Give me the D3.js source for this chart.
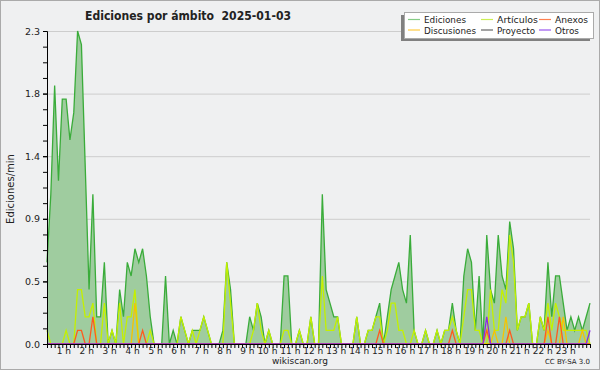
<!DOCTYPE html>
<html>
<head>
<meta charset="utf-8">
<script src="https://cdn.jsdelivr.net/npm/d3@7"></script>
<style>
  body { margin: 0; background: #eff0f1; }
  svg { display: block; }
  text { font-family: "DejaVu Sans", sans-serif; fill: #222; }
</style>
</head>
<body>
<svg id="chart" width="600" height="370"></svg>
<script>
// edits per minute, 10 minute bins
const ediciones = [0.6, 1.1, 1.9, 1.2, 1.8, 1.8, 1.5, 1.7, 2.3, 2.2, 1.3, 0.4, 1.1, 0.2, 0.2, 0.6, 0, 0.1, 0, 0.4,
  0.2, 0.6, 0.5, 0.7, 0.6, 0.7, 0.5, 0.2, 0, 0, 0, 0.5, 0, 0.1, 0, 0.2, 0.1, 0, 0.1, 0.1,
  0.1, 0.2, 0.1, 0, 0, 0, 0.1, 0.6, 0.4, 0, 0, 0, 0, 0.2, 0.1, 0.3, 0.2, 0, 0.1, 0,
  0, 0, 0.5, 0.5, 0, 0, 0.1, 0, 0, 0.2, 0, 0, 1.1, 0.4, 0.3, 0.2, 0.2, 0, 0, 0,
  0, 0.2, 0, 0, 0.1, 0.1, 0.2, 0.3, 0, 0.2, 0.4, 0.5, 0.6, 0.4, 0.3, 0.8, 0.1, 0, 0, 0.1,
  0, 0, 0.1, 0, 0.1, 0.1, 0.3, 0.1, 0, 0.5, 0.7, 0.6, 0.1, 0.5, 0, 0.8, 0.4, 0.3, 0.8, 0.5,
  0.4, 0.9, 0.7, 0.1, 0.2, 0.2, 0.3, 0, 0, 0.2, 0.1, 0.6, 0.2, 0.5, 0.5, 0.3, 0.1, 0.2, 0.1, 0.2,
  0.1, 0.2, 0.3];
const articulos = [0.1, 0, 0, 0, 0, 0.1, 0, 0, 0.4, 0.4, 0.2, 0.2, 0.3, 0, 0, 0.3, 0, 0.1, 0, 0.3,
  0, 0.2, 0.2, 0.4, 0, 0, 0, 0.1, 0, 0, 0, 0, 0, 0, 0, 0.2, 0.1, 0, 0.1, 0,
  0.1, 0.2, 0.1, 0, 0, 0, 0, 0.6, 0.3, 0, 0, 0, 0, 0, 0.1, 0.3, 0.1, 0, 0.1, 0,
  0, 0, 0.1, 0.1, 0, 0, 0.1, 0, 0, 0.2, 0, 0, 0.5, 0.1, 0.1, 0.1, 0.2, 0, 0, 0,
  0, 0.2, 0, 0, 0.1, 0.1, 0.2, 0.2, 0, 0.1, 0.3, 0.3, 0.1, 0.1, 0, 0, 0.1, 0, 0, 0.1,
  0, 0, 0.1, 0, 0.1, 0.1, 0.2, 0.1, 0, 0.2, 0.4, 0.4, 0.1, 0.1, 0, 0, 0.4, 0.1, 0.1, 0.4,
  0.3, 0.8, 0.6, 0.1, 0.2, 0.2, 0.3, 0, 0, 0.2, 0.1, 0.3, 0.1, 0.3, 0.2, 0.1, 0.1, 0.1, 0.1, 0.1,
  0.1, 0.1, 0];
const anexos = [0, 0, 0, 0, 0, 0, 0, 0, 0.1, 0.1, 0, 0, 0.2, 0, 0, 0, 0, 0, 0, 0,
  0, 0, 0, 0, 0, 0.1, 0, 0, 0, 0, 0, 0, 0, 0, 0, 0, 0, 0, 0, 0,
  0, 0, 0, 0, 0, 0, 0, 0, 0, 0, 0, 0, 0, 0, 0, 0, 0, 0, 0, 0,
  0, 0, 0, 0, 0, 0, 0, 0, 0, 0, 0, 0, 0, 0, 0, 0, 0, 0, 0, 0,
  0, 0, 0, 0, 0, 0, 0, 0.1, 0, 0, 0, 0, 0, 0, 0, 0, 0, 0, 0, 0,
  0, 0, 0, 0, 0, 0, 0.1, 0, 0, 0, 0, 0, 0, 0, 0, 0.1, 0, 0, 0, 0,
  0, 0.1, 0, 0, 0, 0, 0, 0, 0, 0, 0, 0.2, 0, 0, 0.2, 0, 0, 0, 0, 0,
  0, 0, 0];
const discusiones = [0, 0, 0, 0, 0, 0, 0, 0, 0, 0, 0, 0, 0, 0, 0, 0, 0, 0, 0, 0,
  0, 0, 0, 0.3, 0, 0, 0, 0, 0, 0, 0, 0, 0, 0, 0, 0, 0, 0, 0, 0,
  0, 0, 0, 0, 0, 0, 0, 0, 0, 0, 0, 0, 0, 0, 0, 0, 0, 0, 0, 0,
  0, 0, 0, 0, 0, 0, 0, 0, 0, 0, 0, 0, 0, 0, 0, 0, 0, 0, 0, 0,
  0, 0, 0, 0, 0, 0, 0, 0, 0, 0, 0, 0, 0, 0, 0, 0, 0, 0, 0, 0,
  0, 0, 0, 0, 0, 0, 0, 0, 0, 0, 0, 0, 0, 0, 0, 0, 0, 0.1, 0, 0,
  0.2, 0, 0, 0, 0, 0, 0, 0, 0, 0, 0, 0.1, 0, 0, 0, 0.2, 0, 0, 0, 0,
  0.1, 0, 0];
const proyecto = ediciones.map(() => 0);
const otros = [0, 0, 0, 0, 0, 0, 0, 0, 0, 0, 0, 0, 0, 0, 0, 0, 0, 0, 0, 0,
  0, 0, 0, 0, 0, 0, 0, 0, 0, 0, 0, 0, 0, 0, 0, 0, 0, 0, 0, 0,
  0, 0, 0, 0, 0, 0, 0, 0, 0, 0, 0, 0, 0, 0, 0, 0, 0, 0, 0, 0,
  0, 0, 0, 0, 0, 0, 0, 0, 0, 0, 0, 0, 0, 0, 0, 0, 0, 0, 0, 0,
  0, 0, 0, 0, 0, 0, 0, 0, 0, 0, 0, 0, 0, 0, 0, 0, 0, 0, 0, 0,
  0, 0, 0, 0, 0, 0, 0, 0, 0, 0, 0, 0, 0, 0, 0, 0.2, 0, 0, 0, 0,
  0, 0, 0, 0, 0, 0, 0, 0, 0, 0, 0, 0, 0, 0, 0, 0, 0, 0, 0, 0,
  0, 0, 0.1];

const yTicks = [0, 0.46, 0.92, 1.38, 1.84, 2.3];
const hourLabels = d3.range(1, 24).map(h => h + " h");
const legendNames = ["Ediciones", "Discusiones", "Artículos", "Proyecto", "Anexos", "Otros"];

const svg = d3.select("#chart");
const W = 600, H = 370;
const plot = {left: 47, right: 590, top: 31, bottom: 344};

svg.append("rect").attr("x", 0.5).attr("y", 0.5).attr("width", W - 1).attr("height", H - 1)
  .attr("fill", "#eff0f1").attr("stroke", "#aaa");

const x = d3.scaleLinear().domain([0, ediciones.length - 1]).range([plot.left, plot.right]);
const y = d3.scaleLinear().domain([0, 2.3]).range([plot.bottom, plot.top]);

// grid
svg.append("g")
  .attr("transform", `translate(${plot.left},0)`)
  .call(d3.axisLeft(y).tickValues(yTicks.slice(1)).tickSize(-(plot.right - plot.left)).tickFormat(""))
  .call(g => g.select(".domain").remove())
  .call(g => g.selectAll("line").attr("stroke", "#cdcdcd"));

// series
const area = d3.area().x((d, i) => x(i)).y0(y(0)).y1(d => y(d));
const line = d3.line().x((d, i) => x(i)).y(d => y(d));

svg.append("path").datum(ediciones).attr("d", area).attr("fill", "#9fcc9f");

const series = [
  {data: ediciones, color: "#3aac3a"},
  {data: proyecto, color: "#555"},
  {data: articulos, color: "#c4f000"},
  {data: discusiones, color: "#f5c400"},
  {data: anexos, color: "#ff5a1e"},
  {data: otros, color: "#8a2be2"}
];
series.forEach(s => {
  svg.append("path").datum(s.data).attr("d", line)
    .attr("fill", "none").attr("stroke", s.color).attr("stroke-width", 1.3);
});

// y axis
const yAxis = svg.append("g").attr("transform", `translate(${plot.left},0)`)
  .call(d3.axisLeft(y).tickValues(yTicks).tickSize(4).tickFormat(d3.format(".1f")));
yAxis.selectAll("text").attr("font-size", 9.5).attr("fill", "#333").attr("font-family", "DejaVu Sans");
yAxis.selectAll("line").attr("stroke", "#000");
svg.append("g").attr("transform", `translate(${plot.left},0)`)
  .call(d3.axisLeft(y).tickValues(d3.range(0, 21).map(k => k * 2.3 / 20)).tickSize(4).tickFormat(""))
  .call(g => g.select(".domain").remove())
  .call(g => g.selectAll("line").attr("stroke", "#000"));

// x axis
svg.append("g").attr("transform", `translate(0,${plot.bottom})`)
  .call(d3.axisBottom(x).tickValues(d3.range(ediciones.length)).tickSize(4).tickSizeOuter(0).tickFormat(""))
  .call(g => g.select(".domain").attr("stroke-width", 1.2))
  .call(g => g.selectAll("line").attr("stroke", "#000"));

svg.append("g").selectAll("text").data(hourLabels).join("text")
  .attr("x", (d, i) => x((i + 1) * 6) + 1)
  .attr("y", 354)
  .attr("text-anchor", "end")
  .attr("font-size", 9)
  .attr("fill", "#333")
  .text(d => d);

// titles
svg.append("text").attr("x", 85).attr("y", 20)
  .attr("font-weight", "bold").attr("font-size", 12)
  .attr("textLength", 206).attr("lengthAdjust", "spacingAndGlyphs")
  .attr("xml:space", "preserve")
  .text("Ediciones por ámbito  2025-01-03");

svg.append("text").attr("transform", "translate(14,189) rotate(-90)")
  .attr("text-anchor", "middle").attr("font-size", 10)
  .text("Ediciones/min");

svg.append("text").attr("x", 300).attr("y", 364).attr("text-anchor", "middle")
  .attr("font-size", 9).attr("fill", "#444").text("wikiscan.org");

svg.append("text").attr("x", 590).attr("y", 364).attr("text-anchor", "end")
  .attr("font-size", 7).attr("fill", "#444").text("CC BY-SA  3.0");

// legend
const legendColors = ["#86cc86", "#ffcc44", "#ccee55", "#666", "#ff8050", "#9955ee"];
const legendWidths = [42, 52, 41, 38, 33, 24];
const lg = svg.append("g");
lg.append("rect").attr("x", 401).attr("y", 15).attr("width", 189).attr("height", 26).attr("fill", "#808080");
lg.append("rect").attr("x", 404.5).attr("y", 12.5).attr("width", 189).attr("height", 26)
  .attr("fill", "#fff").attr("stroke", "#aaa");
const colX = [408, 481, 539];
legendNames.forEach((name, k) => {
  const cx = colX[Math.floor(k / 2)];
  const cy = 19.5 + (k % 2) * 10.5;
  lg.append("line").attr("x1", cx).attr("x2", cx + 12).attr("y1", cy).attr("y2", cy)
    .attr("stroke", legendColors[k]).attr("stroke-width", 1.2);
  lg.append("text").attr("x", cx + 16).attr("y", cy + 3.5)
    .attr("font-size", 9.5).attr("fill", "#222")
    .attr("textLength", legendWidths[k]).attr("lengthAdjust", "spacingAndGlyphs")
    .text(name);
});
</script>
</body>
</html>
